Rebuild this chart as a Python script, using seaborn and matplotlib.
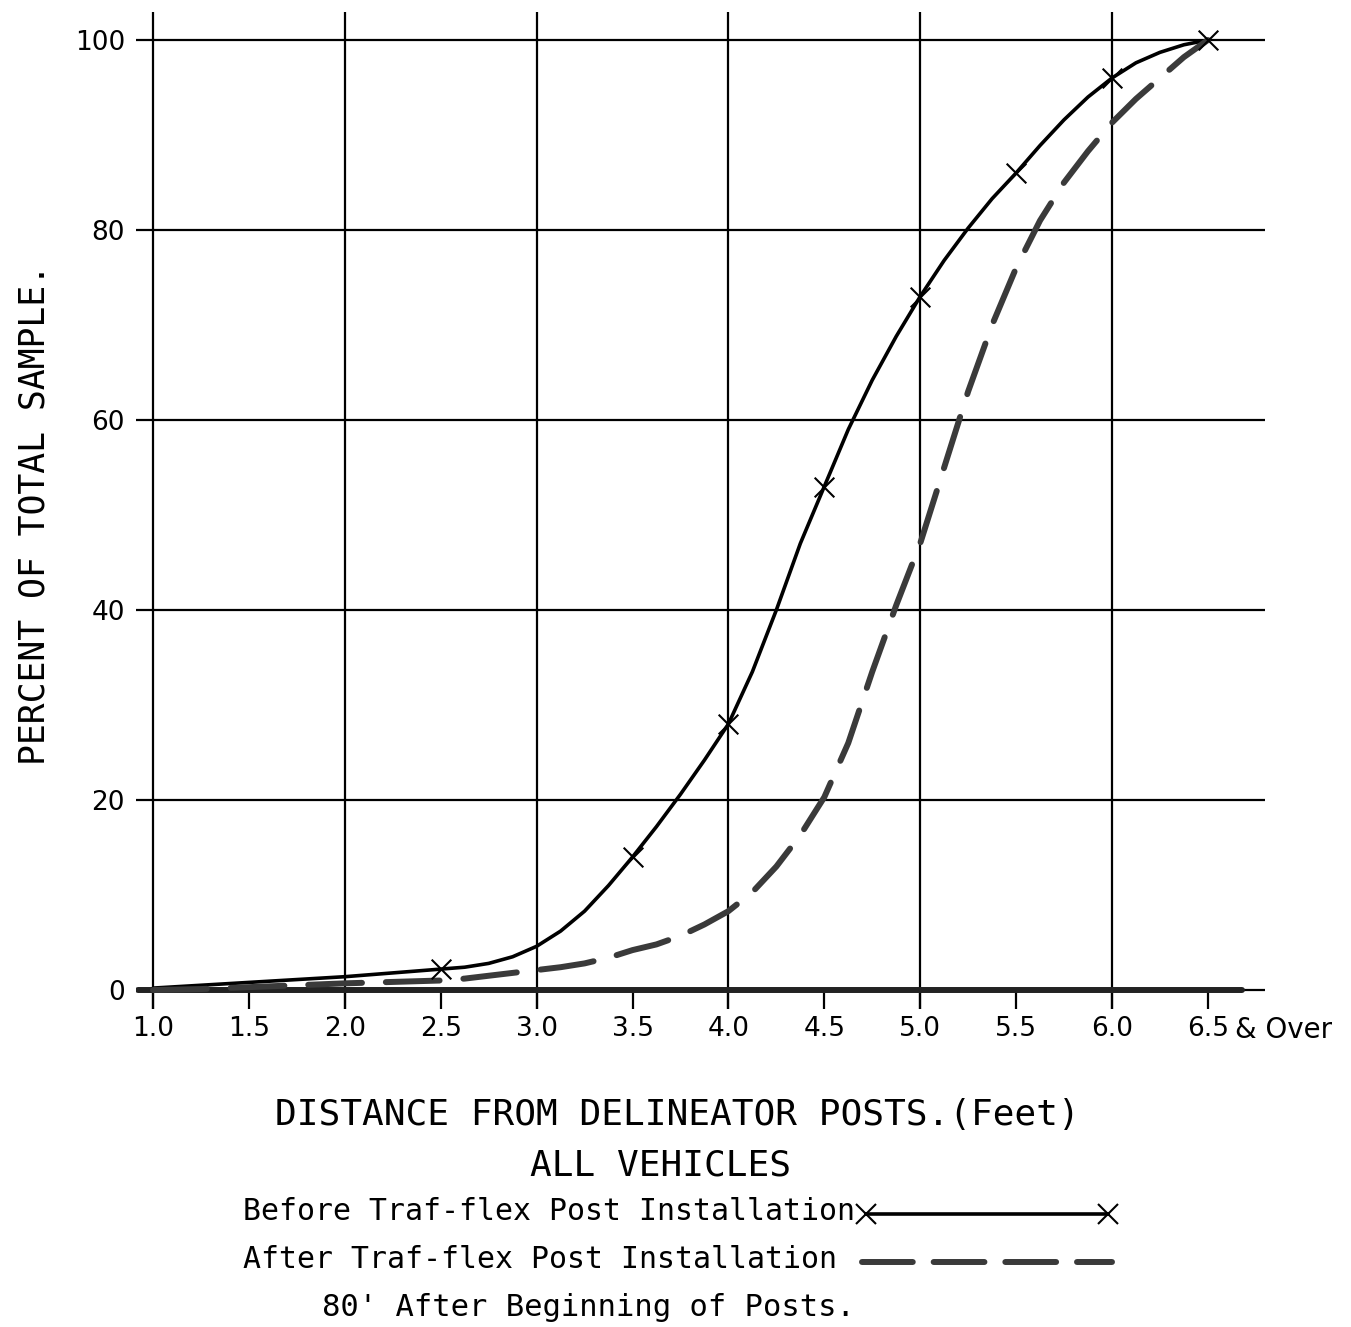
import matplotlib
matplotlib.use("Agg")
import matplotlib.pyplot as plt
from matplotlib.lines import Line2D
import seaborn as sns

# =========================
# Data
# =========================
distance = [1.0, 1.25, 1.5, 1.75, 2.0, 2.25, 2.5,
            2.625, 2.75, 2.875, 3.0, 3.125, 3.25, 3.375, 3.5,
            3.625, 3.75, 3.875, 4.0, 4.125, 4.25, 4.375, 4.5,
            4.625, 4.75, 4.875, 5.0, 5.125, 5.25, 5.375, 5.5,
            5.625, 5.75, 5.875, 6.0, 6.125, 6.25, 6.375, 6.5]
before_pct = [0.2, 0.5, 0.8, 1.1, 1.4, 1.8, 2.2,
              2.4, 2.8, 3.5, 4.6, 6.2, 8.3, 11.0, 14.0,
              17.2, 20.6, 24.2, 28.0, 33.5, 40.0, 47.0, 53.0,
              59.0, 64.2, 68.8, 73.0, 76.8, 80.2, 83.3, 86.0,
              88.9, 91.6, 94.0, 96.0, 97.6, 98.7, 99.5, 100.0]
after_pct = [0.0, 0.1, 0.3, 0.5, 0.7, 0.85, 1.0,
             1.2, 1.5, 1.8, 2.1, 2.4, 2.8, 3.4, 4.2,
             4.8, 5.7, 6.9, 8.3, 10.3, 13.0, 16.3, 20.3,
             26.0, 33.5, 40.5, 47.0, 55.0, 63.0, 70.0, 76.0,
             81.0, 85.0, 88.3, 91.3, 93.8, 96.0, 98.2, 100.0]

# points marked with an "x" on the before curve
mark_distance = [2.5, 3.5, 4.0, 4.5, 5.0, 5.5, 6.0, 6.5]
mark_before = [2.2, 14.0, 28.0, 53.0, 73.0, 86.0, 96.0, 100.0]

x_ticks = [1.0, 1.5, 2.0, 2.5, 3.0, 3.5, 4.0, 4.5, 5.0, 5.5, 6.0, 6.5]
x_tick_labels = ["1.0", "1.5", "2.0", "2.5", "3.0", "3.5", "4.0", "4.5",
                 "5.0", "5.5", "6.0", "6.5"]
x_grid = [1.0, 2.0, 3.0, 4.0, 5.0, 6.0]
y_ticks = [0, 20, 40, 60, 80, 100]

# =========================
# Figure
# =========================
sns.set_style("white")
plt.rcParams["font.family"] = ["DejaVu Sans"]
plt.rcParams["text.color"] = "black"
plt.rcParams["xtick.color"] = "black"
plt.rcParams["ytick.color"] = "black"

W, H = 1351, 1327
fig = plt.figure(figsize=(W / 100, H / 100), dpi=100)
ax = fig.add_axes([136 / W, 1 - 1009 / H, (1265 - 136) / W, (1009 - 12) / H])

x_lo, x_hi = 0.911, 6.798
ax.set_xlim(x_lo, x_hi)
ax.set_ylim(-2.0, 102.95)

for s in ax.spines.values():
    s.set_visible(False)

ax.set_yticks(y_ticks)
ax.set_yticklabels([str(v) for v in y_ticks])
ax.set_xticks(x_ticks)
ax.set_xticklabels(x_tick_labels)
ax.grid(False)
ax.grid(True, axis="y", color="black", lw=1.6)
ax.tick_params(axis="x", direction="in", length=13, width=1.6,
               labelsize=19, pad=5, bottom=True)
ax.tick_params(axis="y", length=0, labelsize=19, pad=8)

# curves
sns.lineplot(x=distance, y=before_pct, ax=ax, color="black", lw=2.6,
             legend=False, zorder=4)
sns.lineplot(x=distance, y=after_pct, ax=ax, color="#3a3a3a", lw=4.3,
             linestyle=(0, (9, 4)), dash_capstyle="round", legend=False, zorder=4)
sns.scatterplot(x=mark_distance, y=mark_before, ax=ax, marker="x", color="black",
                s=200, linewidth=1.5, legend=False, zorder=5)
ax.set_xlabel("")
ax.set_ylabel("")

# vertical grid at whole feet
for gx in x_grid:
    ax.axvline(gx, color="black", lw=1.6, zorder=1)

# heavy base line at 0
ax.axhline(0, xmin=(0.92 - x_lo) / (x_hi - x_lo), xmax=(6.68 - x_lo) / (x_hi - x_lo),
           color="#222222", lw=4.3, zorder=3)

# "& Over" after the last tick label
ax.annotate("& Over", xy=(6.64, -0.021), xycoords=("data", "axes fraction"),
            fontsize=20, ha="left", va="center", annotation_clip=False)

# axis titles, lettering-guide style
mono = "DejaVu Sans Mono"
fig.text(35 / W, 1 - 515 / H, "PERCENT OF TOTAL SAMPLE.", rotation=90,
         fontsize=25, family=mono, ha="center", va="center")
fig.text(677 / W, 1 - 1115 / H, "DISTANCE FROM DELINEATOR POSTS.(Feet)",
         fontsize=26, family=mono, ha="center", va="center")
fig.text(660 / W, 1 - 1165 / H, "ALL VEHICLES", fontsize=26, family=mono,
         ha="center", va="center")

# legend block
fig.text(243 / W, 1 - 1212 / H, "Before Traf-flex Post Installation",
         fontsize=21.5, family=mono, ha="left", va="center")
fig.text(243 / W, 1 - 1260 / H, "After Traf-flex Post Installation",
         fontsize=21.5, family=mono, ha="left", va="center")
fig.text(322 / W, 1 - 1308 / H, "80' After Beginning of Posts.",
         fontsize=22, family=mono, ha="left", va="center")

fig.add_artist(Line2D([866 / W, 1108 / W], [1 - 1214 / H, 1 - 1214 / H],
                      transform=fig.transFigure, color="black", lw=2.6,
                      marker="x", markersize=14, markeredgewidth=1.5))
fig.add_artist(Line2D([862 / W, 1112 / W], [1 - 1262 / H, 1 - 1262 / H],
                      transform=fig.transFigure, color="#3a3a3a", lw=4.3,
                      linestyle=(0, (8.5, 3.5)), dash_capstyle="round"))

fig.savefig("out.png", dpi=100)
